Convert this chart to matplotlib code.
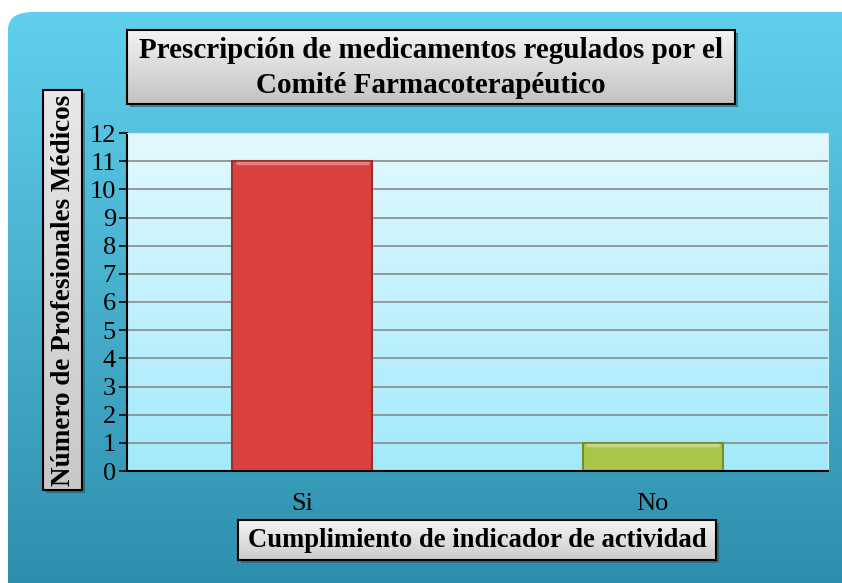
import numpy as np
import matplotlib.pyplot as plt
from matplotlib.patches import FancyBboxPatch, Rectangle
from matplotlib.colors import LinearSegmentedColormap

categories = ['Si', 'No']
values = [11, 1]
bar_colors = ['#d9423f', '#a9c64a']
edge_colors = ['#9c2f2c', '#74902a']
yticks = list(range(0, 13))

title = 'Prescripción de medicamentos regulados por el\nComité Farmacoterapéutico'
xlabel = 'Cumplimiento de indicador de actividad'
ylabel = 'Número de Profesionales Médicos'

W, H = 842, 583
fig = plt.figure(figsize=(W / 100, H / 100), dpi=100)
fig.patch.set_facecolor('white')
plt.rcParams['font.family'] = ['Liberation Serif', 'DejaVu Serif']


def px(x0, y0, x1, y1):
    # pixel box (top-left origin) -> figure fraction [l, b, w, h]
    return [x0 / W, 1 - y1 / H, (x1 - x0) / W, (y1 - y0) / H]


def gradient_box(rect, top, bottom, edge=None, lw=1.2, rounded=False, z=0):
    ax = fig.add_axes(rect, zorder=z)
    ax.set_axis_off()
    cmap = LinearSegmentedColormap.from_list('g', [bottom, top])
    grad = np.linspace(0, 1, 256).reshape(-1, 1)
    im = ax.imshow(grad, cmap=cmap, aspect='auto', origin='lower',
                   extent=[0, 1, 0, 1])
    ax.set_xlim(0, 1)
    ax.set_ylim(0, 1)
    if rounded:
        clip = FancyBboxPatch((0, 0), 1.2, 1, boxstyle='round,pad=0,rounding_size=0.03',
                              transform=ax.transAxes, facecolor='none', edgecolor='none')
        ax.add_patch(clip)
        im.set_clip_path(clip)
    if edge is not None:
        ax.add_patch(Rectangle((0, 0), 1, 1, transform=ax.transAxes, fill=False,
                               edgecolor=edge, linewidth=lw, clip_on=False))
    return ax


# outer background
gradient_box(px(8, 12, 860, 600), '#60d0ec', '#2c8dab', rounded=True, z=0)

# shadows for label boxes
for box in [(127, 30, 735, 104), (43, 90, 82, 490), (238, 520, 716, 560)]:
    x0, y0, x1, y1 = box
    sh = fig.add_axes(px(x0 + 3, y0 + 3, x1 + 3, y1 + 3), zorder=1)
    sh.set_axis_off()
    sh.add_patch(Rectangle((0, 0), 1, 1, transform=sh.transAxes, color='#1f4f60', alpha=0.5))

# title box
tb = gradient_box(px(127, 30, 735, 104), '#f4f4f4', '#c2c2c2', edge='black', lw=1.5, z=2)
tb.text(0.5, 0.49, title, ha='center', va='center', fontsize=21, fontweight='bold',
        linespacing=1.4, transform=tb.transAxes)

# y label box
yb = gradient_box(px(43, 90, 82, 490), '#e8e8e8', '#c8c8c8', edge='black', lw=1.5, z=2)
yb.text(0.52, 0.5, ylabel, ha='center', va='center', rotation=90, fontsize=19.5,
        fontweight='bold', transform=yb.transAxes)

# x label box
xb = gradient_box(px(238, 520, 716, 560), '#f4f4f4', '#cccccc', edge='black', lw=1.5, z=2)
xb.text(0.5, 0.48, xlabel, ha='center', va='center', fontsize=19.2, fontweight='bold',
        transform=xb.transAxes)

# plot area
ax = fig.add_axes(px(127, 133, 828, 471), zorder=3)
cmap = LinearSegmentedColormap.from_list('pa', ['#a2eafb', '#e2f9ff'])
ax.imshow(np.linspace(0, 1, 256).reshape(-1, 1), cmap=cmap, aspect='auto',
          origin='lower', extent=[-0.5, 1.5, 0, 12], zorder=0)
ax.set_xlim(-0.5, 1.5)
ax.set_ylim(0, 12)
ax.set_yticks(yticks)
ax.yaxis.grid(True, color='#8a8a8a', linewidth=1.2, zorder=1)
ax.set_axisbelow(True)

x = np.arange(len(categories))
bars = ax.bar(x, values, width=0.4, color=bar_colors, edgecolor=edge_colors,
              linewidth=1.5, zorder=2)
# light bevel along the top of each bar
for xi, v in zip(x, values):
    ax.plot([xi - 0.19, xi + 0.19], [v - 0.06, v - 0.06], color='white', alpha=0.35,
            linewidth=2.5, zorder=3, solid_capstyle='butt')

ax.set_xticks(x)
ax.set_xticklabels(categories, fontsize=19)
ax.tick_params(axis='x', length=0, pad=16)
ax.tick_params(axis='y', labelsize=19, length=6, width=1.2, direction='out', pad=2)
for s in ['top', 'right']:
    ax.spines[s].set_color('#c8eef8')
ax.spines['left'].set_linewidth(1.5)
ax.spines['bottom'].set_linewidth(1.5)

fig.savefig('out.png', dpi=100)
